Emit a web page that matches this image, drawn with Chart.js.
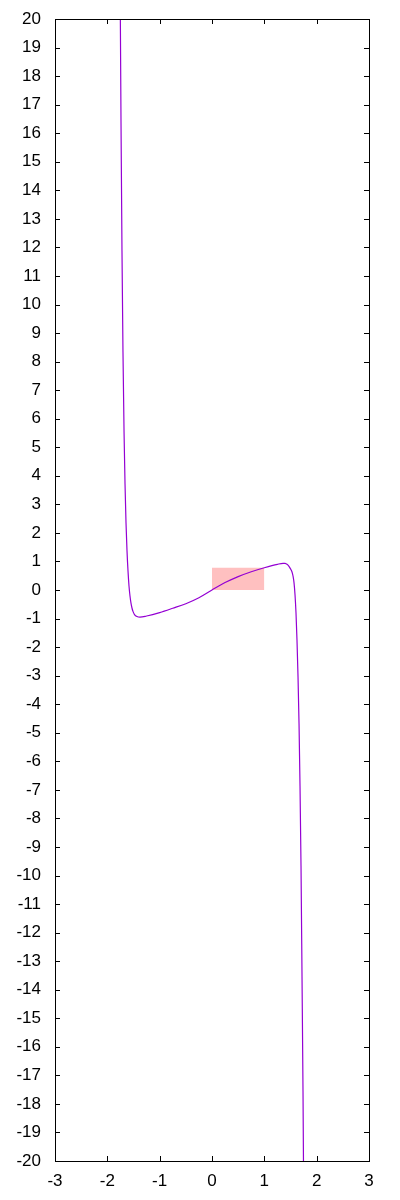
<!DOCTYPE html>
<html>
<head>
  <meta charset="UTF-8">
  <title>curve</title>
  <script src="https://cdn.jsdelivr.net/npm/chart.js"></script>
  <style>
    body { margin: 0; background: #fff; }
    canvas { display: block; }
  </style>
</head>
<body>
  <canvas id="plot" width="400" height="1200"></canvas>

  <script>
    // values
    const curveX = [-1.758, -1.739, -1.720, -1.701, -1.681, -1.662, -1.643, -1.624, -1.605, -1.586,
                    -1.567, -1.548, -1.529, -1.510, -1.481, -1.433, -1.376, -1.25, -1.0, -0.75,
                    -0.5, -0.25, 0, 0.25, 0.5, 0.75, 1.0, 1.25, 1.357, 1.395, 1.433,
                    1.471, 1.50, 1.529, 1.548, 1.567, 1.586, 1.605, 1.624, 1.644, 1.663, 1.682,
                    1.701, 1.720, 1.739, 1.758];
    const curveY = [22, 16.46, 11.87, 8.34, 5.57, 3.71, 2.35, 1.37, 0.67, 0.14,
                    -0.21, -0.46, -0.63, -0.75, -0.86, -0.93, -0.95, -0.91, -0.79, -0.64,
                    -0.48, -0.27, 0, 0.26, 0.47, 0.64, 0.78, 0.90, 0.935, 0.93, 0.90,
                    0.83, 0.74, 0.63, 0.49, 0.26, -0.16, -0.80, -1.75, -3.06, -4.68, -6.87,
                    -9.67, -13.54, -17.55, -23];
    const boxX = [0, 1];
    const boxTop = 0.78;
    const xRange = [-3, 3];
    const yRange = [-20, 20];

    const purple = '#9400d3';
    const pink = '#ffc0c0';

    // gnuplot style: full border with inward ticks on all four sides
    const frameTicks = {
      id: 'frameTicks',
      afterDatasetsDraw(chart) {
        const { ctx, chartArea: a, scales } = chart;
        const len = 5;
        ctx.save();
        ctx.strokeStyle = '#000';
        ctx.lineWidth = 1;
        ctx.beginPath();
        scales.x.ticks.forEach(t => {
          const px = Math.round(scales.x.getPixelForValue(t.value)) + 0.5;
          ctx.moveTo(px, a.bottom); ctx.lineTo(px, a.bottom - len);
          ctx.moveTo(px, a.top); ctx.lineTo(px, a.top + len);
        });
        scales.y.ticks.forEach(t => {
          const py = Math.round(scales.y.getPixelForValue(t.value)) + 0.5;
          ctx.moveTo(a.left, py); ctx.lineTo(a.left + len, py);
          ctx.moveTo(a.right, py); ctx.lineTo(a.right - len, py);
        });
        ctx.stroke();
        ctx.strokeRect(Math.round(a.left) + 0.5, Math.round(a.top) + 0.5,
                       Math.round(a.right - a.left), Math.round(a.bottom - a.top));
        ctx.restore();
      }
    };

    const tickFont = { family: "'Liberation Sans', Arial, sans-serif", size: 17 };
    // invisible outer tick marks just push the y labels away from the frame
    const hiddenGrid = { display: true, drawOnChartArea: false, drawTicks: true, color: 'rgba(0,0,0,0)' };

    new Chart(document.getElementById('plot'), {
      type: 'line',
      data: {
        datasets: [
          {
            data: curveX.map((x, i) => ({ x, y: curveY[i] })),
            borderColor: purple,
            borderWidth: 1.2,
            pointRadius: 0,
            fill: false,
            cubicInterpolationMode: 'monotone'
          },
          {
            data: boxX.map(x => ({ x, y: boxTop })),
            borderWidth: 0,
            borderColor: 'rgba(0,0,0,0)',
            backgroundColor: pink,
            pointRadius: 0,
            fill: 'origin',
            tension: 0
          }
        ]
      },
      options: {
        responsive: false,
        animation: false,
        devicePixelRatio: 1,
        layout: { padding: { top: 19, right: 31, left: 0, bottom: 0 } },
        plugins: { legend: { display: false }, tooltip: { enabled: false } },
        scales: {
          x: {
            type: 'linear', min: xRange[0], max: xRange[1],
            ticks: { stepSize: 1, color: '#000', font: tickFont, padding: 2 },
            grid: { display: false }, border: { display: false },
            afterFit: s => { s.height = 39; }
          },
          y: {
            type: 'linear', min: yRange[0], max: yRange[1],
            ticks: { stepSize: 1, color: '#000', font: tickFont, padding: 2 },
            grid: Object.assign({ tickLength: 12 }, hiddenGrid),
            border: { display: false },
            afterFit: s => { s.width = 55; }
          }
        }
      },
      plugins: [frameTicks]
    });
  </script>
</body>
</html>
